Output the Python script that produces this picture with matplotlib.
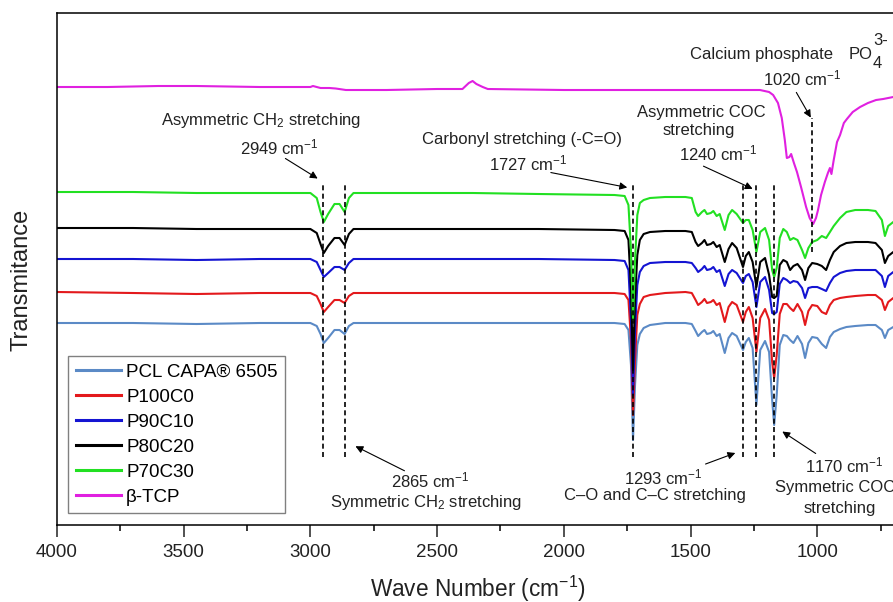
import matplotlib
matplotlib.use('Agg')
import matplotlib.pyplot as plt

# wavenumber grid (cm-1) shared by the PCL based spectra
WN_PCL = [4000, 3700, 3450, 3200, 3000, 2975, 2960, 2947, 2930, 2905,
          2885, 2865, 2848, 2830, 2600, 2360, 2100, 1800, 1760, 1745,
          1735, 1727, 1719, 1710, 1700, 1685, 1660, 1600, 1520, 1495,
          1480, 1470, 1455, 1445, 1435, 1420, 1410, 1397, 1385, 1365,
          1350, 1336, 1318, 1293, 1282, 1270, 1255, 1240, 1225, 1206,
          1190, 1178, 1170, 1160, 1148, 1134, 1120, 1107, 1094, 1078,
          1060, 1048, 1035, 1020, 1000, 982, 965, 950, 935, 910,
          885, 850, 800, 770, 745, 733, 720, 700, 640]

# transmittance (a.u., stacked)
PCL = [202, 202, 201, 202, 202, 199, 191, 182, 187, 195,
       195, 191, 199, 202, 202, 202, 202, 202, 201, 195,
       160, 85, 140, 180, 191, 197, 200, 202, 202, 201,
       194, 189, 193, 195, 191, 192, 194, 189, 191, 172,
       187, 192, 189, 175, 183, 187, 177, 120, 175, 184,
       173, 125, 100, 130, 180, 190, 189, 185, 182, 189,
       181, 167, 182, 188, 187, 181, 177, 188, 193, 196,
       198, 199, 200, 200, 195, 187, 195, 198, 199]

P100C0 = [233, 232, 231, 232, 232, 229, 221, 213, 218, 225,
          225, 222, 229, 232, 232, 232, 232, 232, 231, 225,
          185, 110, 165, 210, 221, 228, 230, 232, 233, 232,
          225, 220, 223, 226, 222, 223, 225, 220, 222, 203,
          218, 223, 220, 203, 213, 218, 207, 173, 207, 216,
          205, 163, 147, 170, 211, 221, 221, 217, 214, 221,
          213, 200, 214, 220, 219, 213, 211, 220, 225, 227,
          228, 229, 230, 230, 225, 215, 223, 227, 228]

P90C10 = [266, 266, 265, 266, 266, 263, 255, 248, 252, 258,
          258, 255, 262, 266, 266, 266, 266, 265, 264, 255,
          205, 130, 195, 240, 253, 259, 262, 263, 263, 262,
          257, 253, 256, 259, 255, 256, 258, 253, 255, 239,
          251, 255, 252, 242, 249, 251, 243, 218, 243, 248,
          235, 212, 211, 213, 241, 247, 245, 242, 244, 243,
          237, 227, 237, 238, 238, 236, 234, 242, 248, 252,
          254, 255, 255, 255, 249, 238, 249, 253, 254]

P80C20 = [297, 297, 296, 296, 296, 292, 281, 272, 279, 287,
          287, 280, 291, 296, 296, 296, 296, 295, 294, 285,
          235, 155, 225, 270, 285, 291, 293, 294, 294, 293,
          283, 279, 282, 285, 280, 281, 283, 278, 280, 263,
          276, 282, 277, 258, 269, 273, 263, 238, 263, 267,
          250, 228, 227, 229, 260, 265, 263, 255, 259, 261,
          255, 245, 257, 262, 261, 259, 255, 265, 273, 279,
          282, 283, 283, 282, 275, 262, 269, 273, 275]

P70C30 = [333, 333, 332, 332, 332, 327, 313, 303, 311, 321,
          321, 313, 327, 332, 332, 332, 331, 330, 329, 320,
          275, 205, 265, 310, 322, 325, 327, 328, 328, 327,
          313, 309, 313, 315, 311, 312, 314, 309, 311, 295,
          310, 315, 311, 302, 305, 305, 295, 273, 293, 297,
          285, 255, 248, 257, 287, 296, 293, 285, 287, 285,
          275, 267, 277, 283, 285, 289, 287, 293, 299, 307,
          313, 315, 315, 314, 305, 289, 299, 303, 305]

WN_TCP = [4000, 3800, 3600, 3450, 3200, 3000, 2990, 2960, 2925, 2900,
          2860, 2700, 2500, 2400, 2375, 2360, 2345, 2320, 2300, 2000,
          1800, 1600, 1400, 1300, 1226, 1190, 1174, 1155, 1140, 1128,
          1120, 1110, 1103, 1092, 1080, 1064, 1044, 1030, 1016, 1005,
          997, 985, 970, 958, 950, 944, 935, 922, 910, 895,
          883, 860, 831, 800, 768, 740, 700, 640]

TCP = [438, 438, 439, 439, 438, 438, 439, 437, 437, 436.5,
       435, 435, 436, 436, 442, 444, 441, 438, 436, 435,
       435, 435, 435, 435, 435, 433, 430, 422, 407, 385,
       367, 368, 371, 362, 353, 338, 318, 307, 301, 307,
       315, 330, 343, 352, 357, 351, 365, 383, 390, 402,
       406, 413, 418, 422, 425, 426, 428, 429]

LABELS = ['PCL CAPA® 6505', 'P100C0', 'P90C10', 'P80C20', 'P70C30', 'β-TCP']
COLORS = ['#5B8AC6', '#E3191C', '#1414D2', '#000000', '#22E022', '#E020E0']

# band positions marked with dashed lines
PCL_BANDS = [2949, 2865, 1727, 1293, 1240, 1170]
TCP_BAND = 1020

plt.rcParams['font.family'] = ['Liberation Sans', 'DejaVu Sans']
plt.rcParams['mathtext.fontset'] = 'custom'
plt.rcParams['mathtext.rm'] = 'Liberation Sans'
plt.rcParams['mathtext.it'] = 'Liberation Sans:italic'
plt.rcParams['mathtext.default'] = 'regular'

TXT = '#222222'

fig = plt.figure(figsize=(8.93, 6.02), dpi=100)
ax = fig.add_axes([0.0638, 0.1279, 0.9507, 0.8505])

series = [(WN_PCL, PCL), (WN_PCL, P100C0), (WN_PCL, P90C10),
          (WN_PCL, P80C20), (WN_PCL, P70C30), (WN_TCP, TCP)]
for (wn, t), lab, col in zip(series, LABELS, COLORS):
    ax.plot(wn, t, color=col, lw=1.5, label=lab)

ax.vlines(PCL_BANDS, 68, 340, colors='black', linestyles=(0, (3, 2)), lw=1.2)
ax.vlines([TCP_BAND], 273, 407, colors='black', linestyles=(0, (3, 2)), lw=1.2)

ax.set_xlim(4000, 650)
ax.set_ylim(0, 512)

arrow = dict(arrowstyle='-|>', color='black', lw=0.8, mutation_scale=11)
fs = 12


def note(x, y, s, ha='center'):
    ax.text(x, y, s, fontsize=fs, ha=ha, va='center', color=TXT)


ax.annotate('', xy=(2962, 345), xytext=(3108, 368), arrowprops=arrow)
note(3195, 405, 'Asymmetric CH$_2$ stretching')
note(3124, 378, '2949 cm$^{-1}$')

ax.annotate('', xy=(2832, 80), xytext=(2619, 53), arrowprops=arrow)
note(2528, 45, '2865 cm$^{-1}$')
note(2544, 23, 'Symmetric CH$_2$ stretching')

ax.annotate('', xy=(1739, 337), xytext=(2062, 353), arrowprops=arrow)
note(2165, 386, 'Carbonyl stretching (-C=O)')
note(2141, 362, '1727 cm$^{-1}$')

ax.annotate('', xy=(1245, 335), xytext=(1459, 360), arrowprops=arrow)
note(1459, 413, 'Asymmetric COC')
note(1466, 395, 'stretching')
note(1392, 372, '1240 cm$^{-1}$')

ax.annotate('', xy=(1020, 405), xytext=(1088, 435), arrowprops=arrow)
note(1502, 471, 'Calcium phosphate', ha='left')
note(878, 471, 'PO', ha='left')
note(780, 485, '3-', ha='left')
note(780, 462, '4', ha='left')
note(1060, 447, '1020 cm$^{-1}$')

ax.annotate('', xy=(1313, 73), xytext=(1451, 60), arrowprops=arrow)
note(1609, 48, '1293 cm$^{-1}$')
note(1640, 30, 'C–O and C–C stretching')

ax.annotate('', xy=(1147, 95), xytext=(997, 70), arrowprops=arrow)
note(894, 60, '1170 cm$^{-1}$')
note(1167, 38, 'Symmetric COC', ha='left')
note(910, 17, 'stretching')

ax.set_xticks(range(4000, 649, -500))
ax.set_xticks(range(3750, 649, -500), minor=True)
ax.set_yticks([])
ax.tick_params(axis='x', which='major', direction='out', length=8.5, width=1.1,
               labelsize=13.5, pad=5.5, colors=TXT)
ax.tick_params(axis='x', which='minor', direction='out', length=4.5, width=1.1)
for sp in ax.spines.values():
    sp.set_linewidth(1.1)

fig.text(478 / 893, 1 - 589 / 602, 'Wave Number (cm$^{-1}$)', fontsize=16.3,
         ha='center', va='center', color=TXT)
fig.text(22 / 893, 1 - 280 / 602, 'Transmitance', fontsize=17, rotation=90,
         ha='center', va='center', color=TXT)

leg = ax.legend(loc='lower left', bbox_to_anchor=(0.013, 0.0234), borderaxespad=0,
                fontsize=13.5, handlelength=2.4, handletextpad=0.3, labelspacing=0.42,
                borderpad=0.4, fancybox=False, framealpha=1, edgecolor='#808080')
leg.get_frame().set_linewidth(1.0)
for line in leg.get_lines():
    line.set_linewidth(2.2)

fig.savefig('out.png', dpi=100)
